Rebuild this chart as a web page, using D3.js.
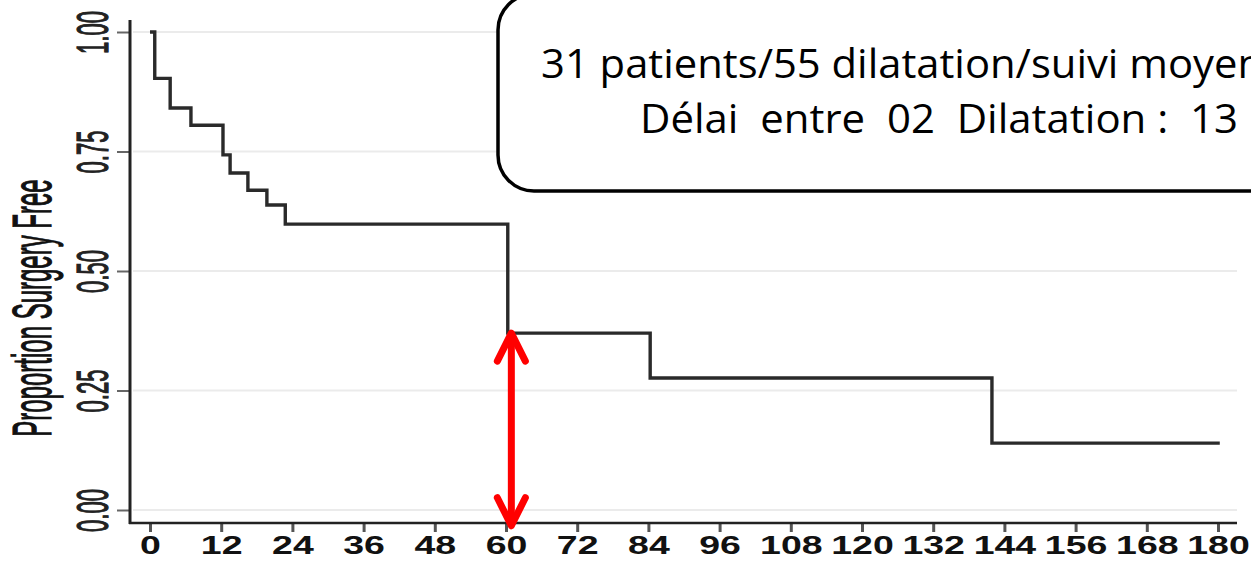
<!DOCTYPE html>
<html>
<head>
<meta charset="utf-8">
<script src="https://cdn.jsdelivr.net/npm/d3@7"></script>
<style>
  html, body { margin: 0; padding: 0; background: #fff; overflow: hidden; }
  svg { display: block; }
</style>
</head>
<body>
<svg id="chart" width="1251" height="561"></svg>
<script>
// ---- data ----
const stepTimes = [0, 0.8, 3.4, 6.9, 12.3, 13.5, 16.5, 19.7, 22.8, 60.3, 84.3, 141.9];
const stepValues = [1.0, 0.903, 0.841, 0.805, 0.743, 0.705, 0.669, 0.638, 0.598, 0.37, 0.276, 0.14];
const curveEnd = 180.3;
const xTicks = [0, 12, 24, 36, 48, 60, 72, 84, 96, 108, 120, 132, 144, 156, 168, 180];
const yTicks = [0, 0.25, 0.5, 0.75, 1.0];
const yTickLabels = ["0.00", "0.25", "0.50", "0.75", "1.00"];
const yTitle = "Proportion Surgery Free";
const boxLines = ["31 patients/55 dilatation/suivi moyen", "Délai  entre  02  Dilatation :  13"];
const arrowMonth = 60.9;
const arrowRange = [-0.035, 0.372];

const svg = d3.select("#chart");
const x = d3.scaleLinear().domain([0, 180]).range([150, 1218]);
const y = d3.scaleLinear().domain([0, 1]).range([510, 32]);

// grid lines
svg.append("g").selectAll("line").data(yTicks).join("line")
  .attr("x1", 133).attr("x2", 1237)
  .attr("y1", d => y(d)).attr("y2", d => y(d))
  .attr("stroke", "#ebebeb").attr("stroke-width", 2);

// y axis
const yAxis = svg.append("g").attr("transform", "translate(130,0)")
  .call(d3.axisLeft(y).tickValues(yTicks).tickSize(13).tickFormat((d, i) => yTickLabels[i]));
yAxis.select(".domain").remove();
yAxis.selectAll(".tick line").attr("stroke", "#666").attr("stroke-width", 2);
yAxis.selectAll(".tick text")
  .attr("x", null).attr("dy", null)
  .attr("text-anchor", "middle")
  .attr("dominant-baseline", "central")
  .attr("transform", "translate(-37,0) scale(2.05,1) rotate(-90)")
  .attr("font-family", "'Liberation Sans', Arial, sans-serif")
  .attr("font-size", 22).attr("fill", "#222")
  .attr("stroke", "#222").attr("stroke-width", 0.6);
svg.append("line").attr("x1", 130).attr("x2", 130).attr("y1", 20).attr("y2", 524)
  .attr("stroke", "#222").attr("stroke-width", 3);

// x axis
const xAxis = svg.append("g").attr("transform", "translate(0,523)")
  .call(d3.axisBottom(x).tickValues(xTicks).tickSize(9).tickFormat(d3.format("d")));
xAxis.select(".domain").remove();
xAxis.selectAll(".tick line").attr("stroke", "#555").attr("stroke-width", 3);
xAxis.selectAll(".tick text")
  .attr("y", null).attr("dy", null)
  .attr("transform", "translate(0,31) scale(1.5,1)")
  .attr("text-anchor", "middle")
  .attr("font-family", "'Liberation Sans', Arial, sans-serif")
  .attr("font-weight", "bold")
  .attr("font-size", 25).attr("fill", "#111");
svg.append("line").attr("x1", 129).attr("x2", 1237).attr("y1", 523).attr("y2", 523)
  .attr("stroke", "#222").attr("stroke-width", 2.5);

// y title
svg.append("text")
  .attr("transform", "translate(32,308) scale(2.3,1) rotate(-90)")
  .attr("text-anchor", "middle").attr("dominant-baseline", "central")
  .attr("font-family", "'Liberation Sans', Arial, sans-serif")
  .attr("font-size", 24).attr("fill", "#111")
  .attr("stroke", "#111").attr("stroke-width", 0.5)
  .text(yTitle);

// KM step curve
const pts = stepTimes.map((t, i) => [t, stepValues[i]]);
pts.push([curveEnd, stepValues[stepValues.length - 1]]);
const line = d3.line().x(d => x(d[0])).y(d => y(d[1])).curve(d3.curveStepAfter);
svg.append("path").attr("d", line(pts))
  .attr("fill", "none").attr("stroke", "#2a2a2a").attr("stroke-width", 3.4)
  .attr("stroke-linejoin", "miter");

// red double arrow
const ax = x(arrowMonth), ay0 = y(arrowRange[0]), ay1 = y(arrowRange[1]);
const red = svg.append("g").attr("stroke", "#ff0000").attr("stroke-width", 7)
  .attr("stroke-linecap", "round").attr("stroke-linejoin", "round").attr("fill", "none");
red.append("line").attr("x1", ax).attr("x2", ax).attr("y1", ay0 - 3).attr("y2", ay1 + 3);
red.append("path").attr("d", `M${ax - 14},${ay1 + 29} L${ax},${ay1 + 1} L${ax + 14},${ay1 + 29}`);
red.append("path").attr("d", `M${ax - 14},${ay0 - 29} L${ax},${ay0 - 1} L${ax + 14},${ay0 - 29}`);

// annotation box
svg.append("rect").attr("x", 498).attr("y", -6).attr("width", 900).attr("height", 197)
  .attr("rx", 36).attr("ry", 36)
  .attr("fill", "#fff").attr("stroke", "#000").attr("stroke-width", 3.5);
svg.append("text").attr("x", 541).attr("y", 78)
  .attr("font-family", "'Open Sans', 'Noto Sans', sans-serif")
  .attr("font-size", 41).attr("fill", "#000")
  .attr("textLength", 722).attr("lengthAdjust", "spacingAndGlyphs")
  .text(boxLines[0]);
svg.append("text").attr("x", 640).attr("y", 133)
  .attr("font-family", "'Open Sans', 'Noto Sans', sans-serif")
  .attr("font-size", 41).attr("fill", "#000")
  .attr("textLength", 598).attr("lengthAdjust", "spacingAndGlyphs")
  .attr("xml:space", "preserve").style("white-space", "pre")
  .text(boxLines[1]);
</script>
</body>
</html>
